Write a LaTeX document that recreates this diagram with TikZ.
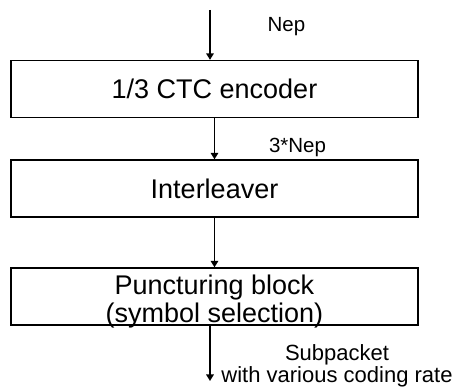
\documentclass[tikz,border=0pt]{standalone}
\usepackage{fontspec}
\setmainfont{Liberation Sans}
\usetikzlibrary{arrows.meta, positioning}

\tikzset{
  block/.style={draw, line width=1.3pt, minimum width=407pt, minimum height=57pt,
    inner sep=0pt, align=center, font=\fontsize{27}{28}\selectfont},
  blocktext/.style={inner sep=0pt, align=center, font=\fontsize{27}{28}\selectfont},
  flow/.style={line width=1.8pt, -{Triangle[length=6.5pt,width=7.5pt]}},
  lbl/.style={anchor=base, font=\fontsize{20.5}{22}\selectfont}
}

\begin{document}
\begin{tikzpicture}[x=1pt,y=1pt]
\useasboundingbox (0,0) rectangle (459,390);

% Blocks
\node[block] (enc) at (214.5,301) {1/3 CTC encoder};
\node[block] (intl) at (214.5,201.5) {Interleaver};
\node[block] (punc) at (214.5,93.5) {};
\node[blocktext] (punctxt) at ([yshift=-5pt]punc.center) {Puncturing block\\(symbol selection)};

% Arrows
\coordinate (in) at (210,380);
\coordinate (out) at (210,9);
\draw[flow] (in) -- (in |- enc.north);
\draw[flow] (enc.south) -- (intl.north);
\draw[flow] (intl.south) -- (punc.north);
\draw[flow] (punc.south -| out) -- (out);

% Labels
\node[lbl] (nep) at (286.5,358) {Nep};
\node[lbl] (nep3) at (297.5,237) {3*Nep};
\node[lbl, align=center, font=\fontsize{22}{22}\selectfont] (sub) at (337,7)
  {Subpacket\\with various coding rate};
\end{tikzpicture}
\end{document}
